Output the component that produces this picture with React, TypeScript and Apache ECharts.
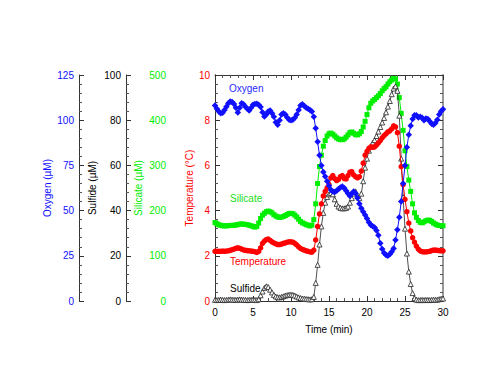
import React, { useEffect, useRef } from "react";
import * as echarts from "echarts";

// Sampling times (min)
const timeMin = [
  0, 0.25, 0.5, 0.75, 1, 1.25, 1.5, 1.75,
  2, 2.25, 2.5, 2.75, 3, 3.25, 3.5, 3.75,
  4, 4.25, 4.5, 4.75, 5, 5.25, 5.5, 5.75,
  6, 6.25, 6.5, 6.75, 7, 7.25, 7.5, 7.75,
  8, 8.25, 8.5, 8.75, 9, 9.25, 9.5, 9.75,
  10, 10.25, 10.5, 10.75, 11, 11.25, 11.5, 11.75,
  12, 12.25, 12.5, 12.75, 13, 13.25, 13.5, 13.75,
  14, 14.25, 14.5, 14.75, 15, 15.25, 15.5, 15.75,
  16, 16.25, 16.5, 16.75, 17, 17.25, 17.5, 17.75,
  18, 18.25, 18.5, 18.75, 19, 19.25, 19.5, 19.75,
  20, 20.25, 20.5, 20.75, 21, 21.25, 21.5, 21.75,
  22, 22.25, 22.5, 22.75, 23, 23.25, 23.5, 23.75,
  24, 24.25, 24.5, 24.75, 25, 25.25, 25.5, 25.75,
  26, 26.25, 26.5, 26.75, 27, 27.25, 27.5, 27.75,
  28, 28.25, 28.5, 28.75, 29, 29.25, 29.5, 29.75,
  30,
];

// Oxygen (µM)
const oxygen = [
  108.1, 106.3, 104.8, 103.8, 104.1, 105.6, 107.5, 109.4,
  110.4, 110.0, 109.0, 106.9, 104.3, 106.9, 109.4, 108.8,
  107.5, 106.3, 105.3, 106.9, 108.5, 109.0, 109.1, 108.5,
  107.3, 104.4, 102.1, 103.1, 104.8, 105.3, 103.8, 101.9,
  98.8, 97.5, 100.0, 103.1, 103.8, 103.1, 101.5, 100.3,
  100.0, 100.3, 101.3, 103.1, 105.6, 108.1, 108.8, 107.8,
  106.9, 106.3, 105.6, 104.8, 101.9, 95.6, 88.1, 80.6,
  75.0, 71.3, 68.8, 66.3, 63.8, 61.5, 60.6, 60.3,
  61.0, 61.9, 62.8, 63.3, 62.5, 61.0, 59.4, 58.1,
  59.4, 60.6, 59.4, 56.9, 53.8, 51.3, 49.4, 47.5,
  45.6, 43.5, 42.0, 41.3, 40.6, 39.0, 36.3, 31.9,
  28.8, 26.5, 25.4, 25.0, 25.8, 27.3, 29.1, 33.8,
  39.4, 46.3, 55.0, 65.0, 75.0, 85.0, 91.9, 96.9,
  100.6, 102.8, 102.8, 101.5, 101.9, 101.3, 100.0, 101.0,
  100.6, 99.4, 98.1, 97.5, 98.5, 100.3, 103.1, 105.0,
  106.0,
];

// Sulfide (µM)
const sulfide = [
  0.5, 0.4, 0.5, 0.6, 0.5, 0.4, 0.5, 0.6,
  0.7, 0.6, 0.5, 0.5, 0.6, 0.7, 0.6, 0.5,
  0.5, 0.4, 0.5, 0.5, 0.6, 0.5, 0.4, 0.8,
  2.5, 4.2, 5.8, 6.5, 6.2, 5.0, 3.8, 2.7,
  2.0, 1.7, 1.6, 1.8, 2.1, 2.4, 2.6, 2.8,
  2.8, 2.7, 2.4, 2.0, 1.6, 1.3, 1.1, 1.0,
  0.9, 0.8, 0.7, 0.8, 1.8, 8.0, 16.0, 25.0,
  33.0, 39.0, 43.5, 46.0, 47.2, 47.8, 47.2, 45.0,
  43.0, 41.8, 41.2, 41.0, 41.0, 41.2, 41.8, 43.5,
  45.5, 47.5, 48.5, 46.5, 45.5, 47.5, 53.0, 59.0,
  63.0, 66.5, 68.5, 70.0, 71.2, 73.0, 75.0, 77.0,
  79.0, 81.0, 83.5, 86.0, 88.5, 91.5, 94.0, 95.0,
  93.0, 82.0, 63.0, 46.0, 32.0, 21.0, 13.0, 7.5,
  3.5, 1.2, 0.6, 0.4, 0.4, 0.5, 0.4, 0.5,
  0.5, 0.4, 0.5, 0.6, 0.5, 0.6, 0.8, 1.0,
  1.1,
];

// Silicate (µM)
const silicate = [
  173.5, 171, 168.5, 167.5, 166.5, 166, 166.5, 166.5,
  167, 167.5, 167.5, 168, 169, 170, 170.5, 170,
  169.5, 169, 167.5, 166.5, 165, 163.5, 165, 172.5,
  182.5, 190, 194, 197.5, 199, 197.5, 195, 191,
  188, 186, 185, 185.5, 187, 189, 191.5, 193.5,
  194, 193, 190, 186, 181, 176, 173, 171,
  169, 167.5, 166, 168, 180, 215, 260, 297.5,
  322.5, 342.5, 355, 365, 370, 371.5, 369, 365,
  361, 358.5, 357, 357, 358.5, 362.5, 367.5, 372.5,
  374, 371, 368, 367.5, 370, 375, 385, 397.5,
  412.5, 427.5, 437.5, 442.5, 446, 450, 454, 459,
  465, 470, 474, 480, 485, 489, 492.5, 491,
  480, 450, 415, 377.5, 332.5, 297.5, 267.5, 242.5,
  215, 195, 185, 178, 174, 173, 175, 177.5,
  179, 178.5, 176, 172.5, 170, 168, 167, 166.5,
  166.5,
];

// Temperature (°C)
const temperature = [
  2.2, 2.2, 2.2, 2.2, 2.21, 2.2, 2.21, 2.22,
  2.24, 2.27, 2.3, 2.33, 2.35, 2.33, 2.3, 2.26,
  2.24, 2.23, 2.22, 2.21, 2.2, 2.18, 2.15, 2.2,
  2.35, 2.55, 2.65, 2.72, 2.74, 2.68, 2.62, 2.57,
  2.53, 2.5, 2.5, 2.52, 2.55, 2.57, 2.6, 2.62,
  2.62, 2.6, 2.55, 2.48, 2.4, 2.33, 2.28, 2.25,
  2.22, 2.2, 2.17, 2.16, 2.25, 2.7, 3.3, 3.85,
  4.3, 4.65, 4.85, 5.0, 5.15, 5.45, 5.55, 5.42,
  5.33, 5.38, 5.5, 5.55, 5.42, 5.4, 5.55, 5.7,
  5.72, 5.58, 5.5, 5.45, 5.5, 5.75, 6.1, 6.45,
  6.62, 6.75, 6.82, 6.8, 6.82, 6.9, 7.0, 7.1,
  7.22, 7.32, 7.4, 7.48, 7.53, 7.62, 7.75, 7.7,
  7.45, 6.85, 5.95, 5.15, 4.5, 3.95, 3.45, 3.1,
  2.8, 2.6, 2.43, 2.3, 2.22, 2.18, 2.17, 2.17,
  2.18, 2.2, 2.23, 2.25, 2.25, 2.24, 2.23, 2.22,
  2.22,
];

const seriesNames = ["Oxygen", "Silicate", "Temperature", "Sulfide"];
const axisNames = ["Temperature (°C)", "Silicate (µM)", "Sulfide (µM)", "Oxygen (µM)"];

const BLUE = "#1010ff";
const GREEN = "#00ee00";
const RED = "#ff0000";
const BLACK = "#000000";
const FONT = "Liberation Sans, Arial, sans-serif";

const pairs = (ys: number[]) => timeMin.map((t, i) => [t, ys[i]]);

export default function App() {
  const ref = useRef<HTMLDivElement>(null);
  useEffect(() => {
    document.body.style.margin = "0";
    if (!ref.current) return;
    const chart = echarts.init(ref.current, undefined, { renderer: "svg" });

    const leftAxis = (
      name: string,
      color: string,
      offset: number,
      max: number,
      interval: number,
      nameGap: number
    ) => ({
      type: "value",
      position: "left",
      offset,
      min: 0,
      max,
      interval,
      name,
      nameLocation: "middle",
      nameGap,
      nameTextStyle: { color, fontSize: 10, fontFamily: FONT },
      axisLine: { show: true, lineStyle: { color: "#333", width: 1 } },
      axisTick: { show: true, inside: true, length: 5, lineStyle: { color: "#333" } },
      minorTick: { show: true, splitNumber: 5, length: 3, lineStyle: { color: "#555" } },
      axisLabel: { color, fontSize: 10, fontFamily: FONT, margin: 5 },
      splitLine: { show: false },
      minorSplitLine: { show: false },
    });

    const option: any = {
      animation: false,
      backgroundColor: "#ffffff",
      textStyle: { fontFamily: FONT },
      grid: { left: 215, right: 57, top: 75, bottom: 84, containLabel: false },
      xAxis: [
        {
          type: "value",
          position: "bottom",
          min: 0,
          max: 30,
          interval: 5,
          name: "Time (min)",
          nameLocation: "middle",
          nameGap: 23,
          nameTextStyle: { color: "#000", fontSize: 10, fontFamily: FONT },
          axisLine: { show: true, onZero: false, lineStyle: { color: "#333" } },
          axisTick: { show: true, inside: true, length: 5, lineStyle: { color: "#333" } },
          minorTick: { show: true, splitNumber: 5, length: 3, lineStyle: { color: "#555" } },
          axisLabel: { color: "#000", fontSize: 10, fontFamily: FONT, margin: 6 },
          splitLine: { show: false },
        },
        {
          type: "value",
          position: "top",
          min: 0,
          max: 30,
          interval: 5,
          axisLine: { show: true, onZero: false, lineStyle: { color: "#333" } },
          axisTick: { show: true, inside: true, length: 5, lineStyle: { color: "#333" } },
          minorTick: { show: true, splitNumber: 5, length: 3, lineStyle: { color: "#555" } },
          axisLabel: { show: false },
          splitLine: { show: false },
        },
      ],
      yAxis: [
        leftAxis(axisNames[0], RED, 0, 10, 2, 21),
        leftAxis(axisNames[1], GREEN, 44, 500, 100, 28),
        leftAxis(axisNames[2], BLACK, 89, 100, 20, 29),
        leftAxis(axisNames[3], BLUE, 136, 125, 25, 27),
        {
          type: "value",
          position: "right",
          min: 0,
          max: 10,
          interval: 2,
          axisLine: { show: true, onZero: false, lineStyle: { color: "#999", width: 2 } },
          axisTick: { show: true, inside: true, length: 5, lineStyle: { color: "#333" } },
          minorTick: { show: true, splitNumber: 5, length: 3, lineStyle: { color: "#555" } },
          axisLabel: { show: false },
          splitLine: { show: false },
        },
      ],
      series: [
        {
          name: seriesNames[1],
          type: "line",
          yAxisIndex: 1,
          data: pairs(silicate),
          symbol: "rect",
          symbolSize: 5,
          showSymbol: true,
          itemStyle: { color: GREEN },
          lineStyle: { color: GREEN, width: 1 },
          z: 2,
        },
        {
          name: seriesNames[3],
          type: "line",
          yAxisIndex: 2,
          data: pairs(sulfide),
          symbol: "triangle",
          symbolSize: 5,
          showSymbol: true,
          itemStyle: { color: "#ffffff", borderColor: "#222", borderWidth: 0.8 },
          lineStyle: { color: "#222", width: 0.8 },
          z: 3,
        },
        {
          name: seriesNames[2],
          type: "line",
          yAxisIndex: 0,
          data: pairs(temperature),
          symbol: "circle",
          symbolSize: 5.5,
          showSymbol: true,
          itemStyle: { color: RED },
          lineStyle: { color: RED, width: 1 },
          z: 4,
        },
        {
          name: seriesNames[0],
          type: "line",
          yAxisIndex: 3,
          data: pairs(oxygen),
          symbol: "diamond",
          symbolSize: 6.5,
          showSymbol: true,
          itemStyle: { color: BLUE },
          lineStyle: { color: BLUE, width: 1 },
          z: 5,
        },
      ],
      graphic: [
        { type: "text", x: 229, y: 88, style: { text: seriesNames[0], fill: "#2a2aff", font: `10px ${FONT}`, verticalAlign: "middle" } },
        { type: "text", x: 230, y: 198, style: { text: seriesNames[1], fill: "#22dd22", font: `10px ${FONT}`, verticalAlign: "middle" } },
        { type: "text", x: 230, y: 261, style: { text: seriesNames[2], fill: RED, font: `10px ${FONT}`, verticalAlign: "middle" } },
        { type: "text", x: 230, y: 288, style: { text: seriesNames[3], fill: "#000", font: `10px ${FONT}`, verticalAlign: "middle" } },
      ],
    };
    chart.setOption(option);
    return () => chart.dispose();
  }, []);
  return (
    <div
      ref={ref}
      style={{ position: "absolute", left: 0, top: 0, width: 500, height: 385, background: "#fff" }}
    />
  );
}
